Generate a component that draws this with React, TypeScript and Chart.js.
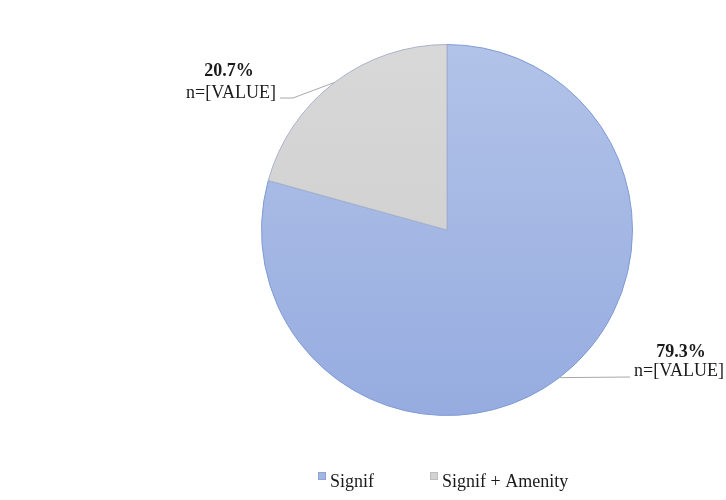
import React, { useEffect, useRef } from "react";
import { Chart, registerables } from "chart.js";

Chart.register(...registerables);

const categories: string[] = ["Signif", "Signif + Amenity"];
const percentages: number[] = [79.3, 20.7];
const countLabels: string[] = ["n=[VALUE]", "n=[VALUE]"];

const legendColors = ["#a3b7e4", "#d2d2d2"];
const FONT = "'Liberation Serif', 'Times New Roman', serif";

function makeFill(chart: any, index: number) {
  const area = chart.chartArea;
  if (!area) return legendColors[index];
  const g = chart.ctx.createLinearGradient(0, area.top, 0, area.bottom);
  if (index === 0) {
    g.addColorStop(0, "rgb(178,195,232)");
    g.addColorStop(1, "rgb(150,172,224)");
  } else {
    g.addColorStop(0, "rgb(216,216,216)");
    g.addColorStop(1, "rgb(204,204,204)");
  }
  return g;
}

// label placement (pixel positions for text + elbow of leader lines)
const labelPlacement = [
  { pctX: 681, pctY: 352, nX: 679, nY: 371, path: [[630, 377]] },
  { pctX: 229, pctY: 71, nX: 231, nY: 93, path: [[293, 98], [280, 98]] },
];

const labelPlugin = {
  id: "pieLabels",
  afterDraw(chart: any) {
    const ctx = chart.ctx;
    const meta = chart.getDatasetMeta(0);
    ctx.save();
    meta.data.forEach((arc: any, i: number) => {
      const mid = (arc.startAngle + arc.endAngle) / 2;
      const ex = arc.x + Math.cos(mid) * arc.outerRadius;
      const ey = arc.y + Math.sin(mid) * arc.outerRadius;
      const p = labelPlacement[i];
      ctx.strokeStyle = "#a8a8a8";
      ctx.lineWidth = 1;
      ctx.beginPath();
      ctx.moveTo(ex, ey);
      p.path.forEach((pt) => ctx.lineTo(pt[0], pt[1]));
      ctx.stroke();
      ctx.fillStyle = "#1a1a1a";
      ctx.textAlign = "center";
      ctx.textBaseline = "middle";
      ctx.font = `bold 18px ${FONT}`;
      ctx.fillText(percentages[i].toFixed(1) + "%", p.pctX, p.pctY);
      ctx.font = `18px ${FONT}`;
      ctx.fillText(countLabels[i], p.nX, p.nY);
    });

    // legend
    const legendPos = [318, 430];
    ctx.font = `18px ${FONT}`;
    ctx.textAlign = "left";
    categories.forEach((c, i) => {
      const x = legendPos[i];
      ctx.fillStyle = legendColors[i];
      ctx.fillRect(x, 472, 8, 8);
      ctx.strokeStyle = i === 0 ? "#8ea3d6" : "#bdbdbd";
      ctx.strokeRect(x + 0.5, 472.5, 7, 7);
      ctx.fillStyle = "#1a1a1a";
      ctx.fillText(c, x + 12, 482);
    });
    ctx.restore();
  },
};

export default function App() {
  const ref = useRef<HTMLCanvasElement | null>(null);
  useEffect(() => {
    if (!ref.current) return;
    const chart = new Chart(ref.current, {
      type: "pie",
      data: {
        labels: categories,
        datasets: [
          {
            data: percentages,
            backgroundColor: (ctx: any) => makeFill(ctx.chart, ctx.dataIndex),
            borderColor: ["#7f9bd6", "#a9b3c9"],
            borderWidth: 1,
          },
        ],
      },
      options: {
        responsive: false,
        animation: false,
        layout: { padding: { left: 261, right: 93, top: 44, bottom: 84 } },
        plugins: {
          legend: { display: false },
          tooltip: { enabled: false },
        },
      },
      plugins: [labelPlugin],
    });
    return () => chart.destroy();
  }, []);
  return (
    <div style={{ position: "absolute", left: 0, top: 0, width: 726, height: 500, background: "#fff" }}>
      <canvas ref={ref} width={726} height={500} />
    </div>
  );
}
